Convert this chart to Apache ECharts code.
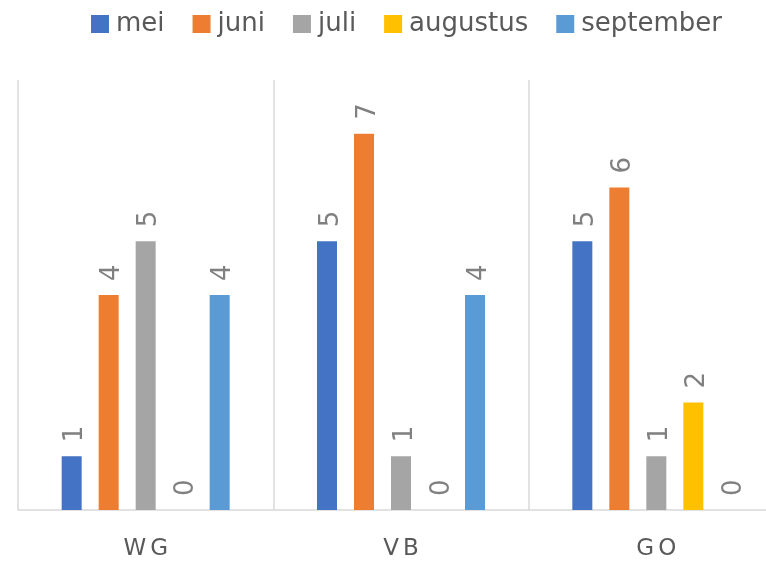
<!DOCTYPE html>
<html>
<head>
<meta charset="utf-8">
<title>WG / VB / GO</title>
<script src="https://cdn.jsdelivr.net/npm/echarts@6/dist/echarts.min.js"></script>
<style>
    html, body { margin: 0; padding: 0; background: #fff; overflow: hidden; }
    /* breder dan het venster: de laatste categorie loopt rechts buiten beeld door */
    #chart { width: 800px; height: 564px; }
</style>
</head>
<body>
<div id="chart"></div>
<script>
// categorieen en maanden
var categories = ['WG', 'VB', 'GO'];
var months = ['mei', 'juni', 'juli', 'augustus', 'september'];
var colors = ['#4472C4', '#ED7D31', '#A5A5A5', '#FFC000', '#5B9BD5'];

// waarden per maand (WG, VB, GO)
var mei = [1, 5, 5];
var juni = [4, 7, 6];
var juli = [5, 1, 1];
var augustus = [0, 0, 2];
var september = [4, 4, 0];

var FONT = 'DejaVu Sans';

function buildSeries() {
    var values = [mei, juni, juli, augustus, september];
    var list = [];
    for (var i = 0; i < months.length; i++) {
        list.push({
            name: months[i],
            type: 'bar',
            data: values[i],
            barWidth: 20,
            barGap: '85%',
            itemStyle: { color: colors[i] },
            label: {
                show: true,
                position: 'top',
                rotate: 90,
                align: 'left',
                verticalAlign: 'middle',
                distance: 14,
                offset: [0, 4],
                color: '#808080',
                fontFamily: FONT,
                fontSize: 26
            }
        });
    }
    return list;
}

// letters iets uit elkaar zetten zoals in Excel
function spaced(v) {
    return v.split('').map(function (c) { return '{l|' + c + '}'; }).join('');
}

function drawChart() {
    var chart = echarts.init(document.getElementById('chart'));
    var option = {
        animation: false,
        color: colors,
        legend: {
            left: 91,
            top: 11,
            padding: 0,
            icon: 'rect',
            itemWidth: 18,
            itemHeight: 18,
            itemGap: 28,
            textStyle: {
                color: '#595959',
                fontFamily: FONT,
                fontSize: 26,
                padding: [0, 0, 0, 2]
            },
            data: months
        },
        grid: {
            left: 18,
            right: 16,
            top: 80,
            bottom: 54
        },
        xAxis: {
            type: 'category',
            data: categories,
            axisTick: { show: false },
            axisLine: { lineStyle: { color: '#d9d9d9', width: 1.5 } },
            splitLine: { show: true, lineStyle: { color: '#d9d9d9', width: 1.5 } },
            axisLabel: {
                margin: 28,
                formatter: spaced,
                rich: {
                    l: {
                        color: '#595959',
                        fontFamily: FONT,
                        fontSize: 23,
                        padding: [0, 2]
                    }
                }
            }
        },
        yAxis: {
            type: 'value',
            min: 0,
            max: 8,
            show: false,
            splitLine: { show: false }
        },
        series: buildSeries()
    };
    chart.setOption(option);
}

drawChart();
</script>
</body>
</html>
